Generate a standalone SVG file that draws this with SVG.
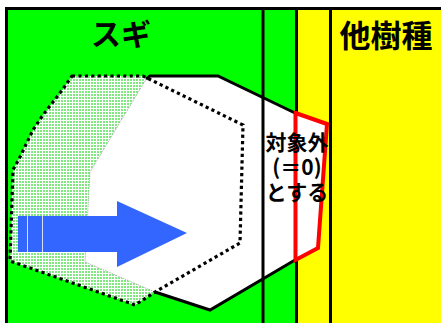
<svg xmlns="http://www.w3.org/2000/svg" width="441" height="323" viewBox="0 0 441 323">
<style>
.ln{stroke:#000;stroke-width:3;fill:none}
.dot{stroke:#000;stroke-width:3.2;fill:none;stroke-dasharray:3.2 3.2}
.t{font-family:"Noto Sans CJK JP","Noto Sans",sans-serif;font-weight:bold;fill:#000;text-anchor:middle}
</style>
<defs>
<pattern id="grid" width="3" height="3" patternUnits="userSpaceOnUse">
<rect width="3" height="3" fill="#ffffff"/>
<rect x="1" y="1" width="2" height="2" fill="#7fe87f"/>
</pattern>
</defs>
<rect x="0" y="0" width="441" height="323" fill="#fff"/>
<g id="areas">
<rect x="8" y="8" width="288" height="315" fill="#00ff00"/>
<rect x="296" y="8" width="145" height="315" fill="#ffff00"/>
</g>
<g id="dotted-area">
<polygon points="72,76 143,76 243,125 240,243 155,292 135,305 10,261 13,170 20,157 33,130 43,115 53,102 63,89" fill="url(#grid)"/>
</g>
<g id="hexagon">
<polygon points="148,76 218,76 295,113 295,260 210,310 155,292 85,262 90,172" fill="#fff"/>
<polyline points="148,76 90,172 85,262 155,292" fill="none" stroke="#999" stroke-width="0.8" stroke-dasharray="1 1"/>
<polyline class="ln" points="146,79 150,76 218,76 295,113"/>
<polyline class="ln" points="155,292 210,310 295,260"/>
</g>
<g id="dotted-outline">
<polygon class="dot" points="72,76 143,76 243,125 240,243 155,292 135,305 10,261 13,170 20,157 33,130 43,115 53,102 63,89"/>
</g>
<g id="frame">
<rect x="6.5" y="8.5" width="437" height="316" class="ln"/>
<line class="ln" x1="263" y1="8" x2="263" y2="323"/>
<line class="ln" x1="296.5" y1="8" x2="296.5" y2="323"/>
<line class="ln" x1="330.5" y1="8" x2="330.5" y2="323"/>
</g>
<g id="excluded">
<polygon points="295.5,113 327,124 318,248 295.5,260" fill="#fff" stroke="#ff0000" stroke-width="4" stroke-linejoin="miter"/>
</g>
<g id="arrow">
<polygon points="18,216 117,216 117,201 187,233 117,267 117,252 18,252" fill="#3366ff"/>
<line x1="27.5" y1="216" x2="27.5" y2="252" stroke="#fff" stroke-width="0.8"/>
<line x1="42.5" y1="216" x2="42.5" y2="252" stroke="#fff" stroke-width="0.8"/>
</g>
<g id="labels">
<text class="t" x="121" y="45" font-size="30">スギ</text>
<text class="t" x="386" y="47" font-size="31">他樹種</text>
<text class="t" x="297" y="150" font-size="21">対象外</text>
<text class="t" x="297" y="175" font-size="21">(＝0)</text>
<text class="t" x="297" y="200" font-size="21">とする</text>
</g>
</svg>
